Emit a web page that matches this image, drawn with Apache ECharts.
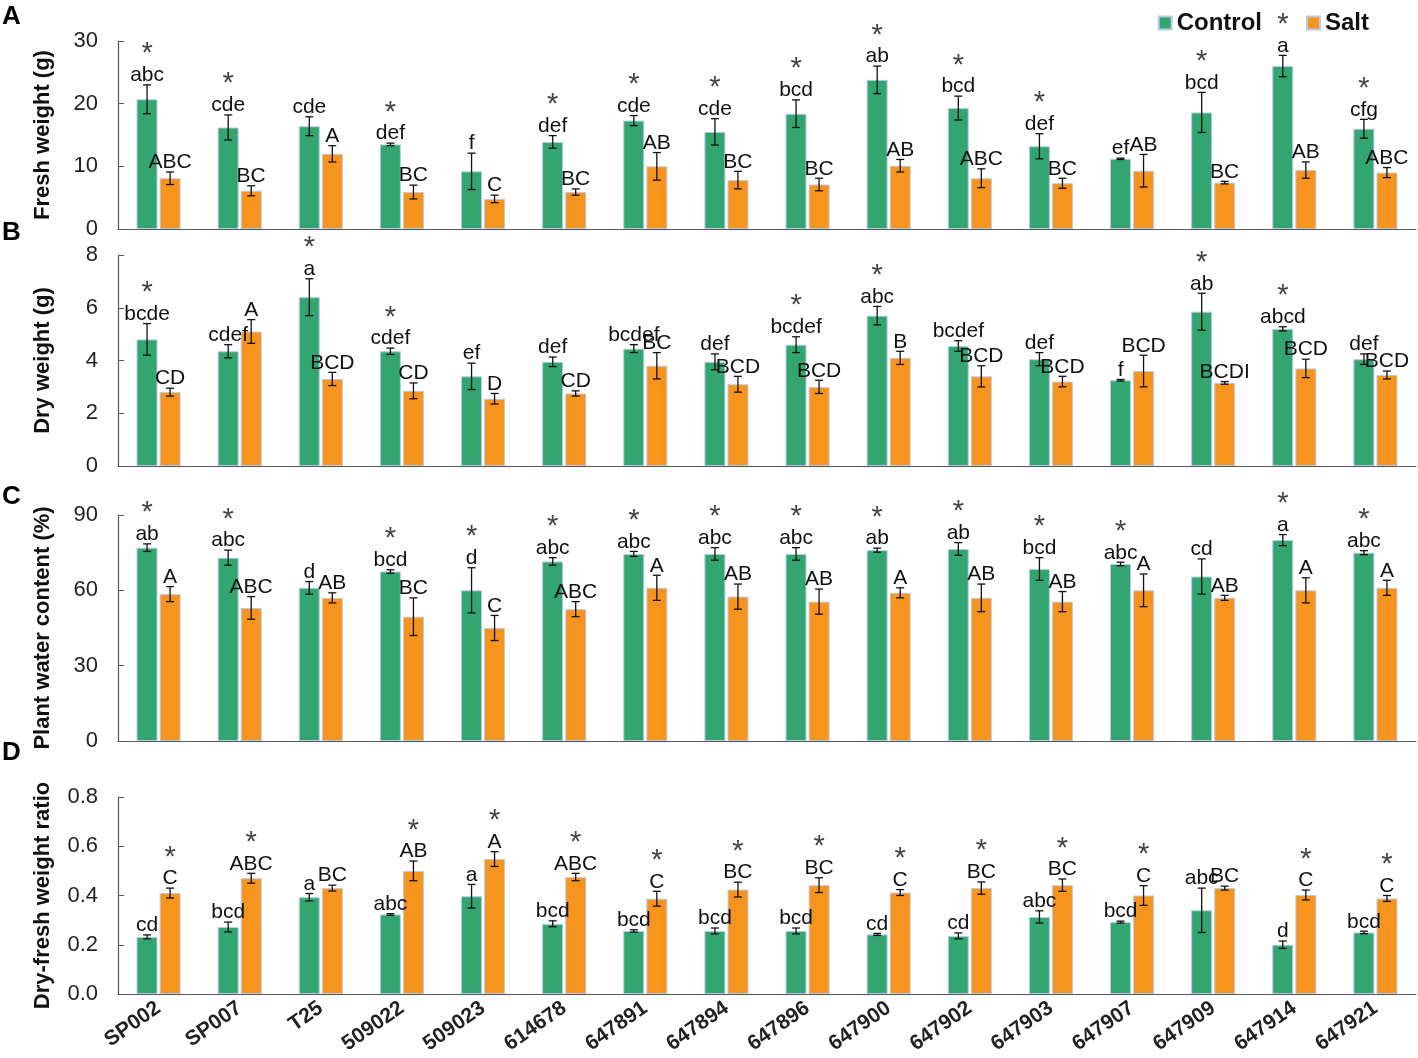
<!DOCTYPE html>
<html>
<head>
<meta charset="utf-8">
<script src="https://cdn.jsdelivr.net/npm/echarts@6/dist/echarts.min.js"></script>
<style>
  html, body { margin: 0; padding: 0; background: #fff; }
  #main { width: 1418px; height: 1058px; }
</style>
</head>
<body>
<div id="main"></div>
<script>
// 品种
var categories = ['SP002', 'SP007', 'T25', '509022', '509023', '614678', '647891', '647894',
                  '647896', '647900', '647902', '647903', '647907', '647909', '647914', '647921'];

// A 鲜重 (g)
var fwCtrl    = [20.7, 16.2, 16.4, 13.5, 9.2, 13.9, 17.3, 15.5, 18.4, 23.8, 19.3, 13.2, 11.2, 18.6, 26.0, 16.0];
var fwCtrlErr = [2.3, 2.0, 1.5, 0.2, 2.9, 1.0, 0.8, 2.1, 2.2, 2.2, 1.9, 2.0, 0.1, 3.2, 1.7, 1.5];
var fwSalt    = [8.1, 6.1, 12.0, 5.9, 4.8, 5.9, 10.0, 7.8, 7.1, 10.1, 8.1, 7.3, 9.3, 7.4, 9.4, 9.0];
var fwSaltErr = [1.0, 0.8, 1.3, 1.1, 0.6, 0.5, 2.2, 1.4, 1.0, 1.0, 1.5, 0.8, 2.6, 0.2, 1.3, 0.8];
var fwCtrlLetters = ['abc', 'cde', 'cde', 'def', 'f', 'def', 'cde', 'cde', 'bcd', 'ab', 'bcd', 'def', 'ef', 'bcd', 'a', 'cfg'];
var fwSaltLetters = ['ABC', 'BC', 'A', 'BC', 'C', 'BC', 'AB', 'BC', 'BC', 'AB', 'ABC', 'BC', 'AB', 'BC', 'AB', 'ABC'];
var fwCtrlStars = [1, 1, 0, 1, 0, 1, 1, 1, 1, 1, 1, 1, 0, 1, 1, 1];
var fwSaltStars = [0, 0, 0, 0, 0, 0, 0, 0, 0, 0, 0, 0, 0, 0, 0, 0];

// B 干重 (g)
var dwCtrl    = [4.8, 4.35, 6.4, 4.35, 3.4, 3.95, 4.45, 3.95, 4.6, 5.7, 4.55, 4.05, 3.25, 5.85, 5.2, 4.05];
var dwCtrlErr = [0.6, 0.25, 0.7, 0.12, 0.5, 0.18, 0.15, 0.3, 0.3, 0.35, 0.2, 0.25, 0.03, 0.7, 0.08, 0.2];
var dwSalt    = [2.8, 5.1, 3.3, 2.85, 2.55, 2.75, 3.8, 3.1, 3.0, 4.1, 3.4, 3.2, 3.6, 3.15, 3.7, 3.45];
var dwSaltErr = [0.15, 0.45, 0.25, 0.3, 0.2, 0.1, 0.5, 0.3, 0.25, 0.25, 0.4, 0.2, 0.6, 0.05, 0.35, 0.15];
var dwCtrlLetters = ['bcde', 'cdef', 'a', 'cdef', 'ef', 'def', 'bcdef', 'def', 'bcdef', 'abc', 'bcdef', 'def', 'f', 'ab', 'abcd', 'def'];
var dwSaltLetters = ['CD', 'A', 'BCD', 'CD', 'D', 'CD', 'BC', 'BCD', 'BCD', 'B', 'BCD', 'BCD', 'BCD', 'BCDI', 'BCD', 'BCD'];
var dwCtrlStars = [1, 0, 1, 1, 0, 0, 0, 0, 1, 1, 0, 0, 0, 1, 1, 0];
var dwSaltStars = [0, 0, 0, 0, 0, 0, 0, 0, 0, 0, 0, 0, 0, 0, 0, 0];

// C 含水量 (%)
var wcCtrl    = [77, 73, 61, 67.5, 60, 71.5, 74.5, 74.5, 74.5, 76, 76.5, 68.5, 70.5, 65.5, 80, 75];
var wcCtrlErr = [1.5, 3, 2.5, 0.7, 9, 1.5, 1, 2.5, 2.5, 0.8, 2.5, 4.5, 0.7, 7, 2.2, 0.8];
var wcSalt    = [58.5, 53, 57, 49.5, 45, 52.5, 61, 57.5, 55.5, 59, 57, 55.5, 60, 57, 60, 61];
var wcSaltErr = [3, 4.5, 2, 7.5, 5, 3, 5, 5, 5, 2, 5.5, 4, 6.5, 1, 5, 3];
var wcCtrlLetters = ['ab', 'abc', 'd', 'bcd', 'd', 'abc', 'abc', 'abc', 'abc', 'ab', 'ab', 'bcd', 'abc', 'cd', 'a', 'abc'];
var wcSaltLetters = ['A', 'ABC', 'AB', 'BC', 'C', 'ABC', 'A', 'AB', 'AB', 'A', 'AB', 'AB', 'A', 'AB', 'A', 'A'];
var wcCtrlStars = [1, 1, 0, 1, 1, 1, 1, 1, 1, 1, 1, 1, 1, 0, 1, 1];
var wcSaltStars = [0, 0, 0, 0, 0, 0, 0, 0, 0, 0, 0, 0, 0, 0, 0, 0];

// D 干鲜比
var rtCtrl    = [0.232, 0.272, 0.393, 0.323, 0.397, 0.285, 0.256, 0.256, 0.256, 0.242, 0.236, 0.313, 0.292, 0.34, 0.2, 0.25];
var rtCtrlErr = [0.008, 0.02, 0.015, 0.003, 0.048, 0.012, 0.005, 0.012, 0.012, 0.004, 0.012, 0.025, 0.004, 0.09, 0.015, 0.005];
var rtSalt    = [0.41, 0.47, 0.43, 0.5, 0.548, 0.475, 0.387, 0.424, 0.442, 0.412, 0.43, 0.442, 0.4, 0.43, 0.402, 0.388];
var rtSaltErr = [0.02, 0.02, 0.012, 0.04, 0.03, 0.015, 0.03, 0.03, 0.03, 0.012, 0.025, 0.025, 0.04, 0.008, 0.02, 0.012];
var rtCtrlLetters = ['cd', 'bcd', 'a', 'abc', 'a', 'bcd', 'bcd', 'bcd', 'bcd', 'cd', 'cd', 'abc', 'bcd', 'abc', 'd', 'bcd'];
var rtSaltLetters = ['C', 'ABC', 'BC', 'AB', 'A', 'ABC', 'C', 'BC', 'BC', 'C', 'BC', 'BC', 'C', 'BC', 'C', 'C'];
var rtCtrlStars = [0, 0, 0, 0, 0, 0, 0, 0, 0, 0, 0, 0, 0, 0, 0, 0];
var rtSaltStars = [1, 1, 0, 1, 1, 1, 1, 1, 1, 1, 1, 1, 1, 0, 1, 1];

var FONT = "'Liberation Sans', Arial, sans-serif";
var GREEN = '#33a570';
var ORANGE = '#f7941e';

var panels = [
  { name: 'Fresh weight (g)', top: 41, height: 188, max: 30, interval: 10,
    ctrl: fwCtrl, ctrlErr: fwCtrlErr, salt: fwSalt, saltErr: fwSaltErr,
    cl: fwCtrlLetters, sl: fwSaltLetters, cs: fwCtrlStars, ss: fwSaltStars },
  { name: 'Dry weight (g)', top: 255, height: 211, max: 8, interval: 2,
    ctrl: dwCtrl, ctrlErr: dwCtrlErr, salt: dwSalt, saltErr: dwSaltErr,
    cl: dwCtrlLetters, sl: dwSaltLetters, cs: dwCtrlStars, ss: dwSaltStars },
  { name: 'Plant water content (%)', top: 515, height: 226, max: 90, interval: 30,
    ctrl: wcCtrl, ctrlErr: wcCtrlErr, salt: wcSalt, saltErr: wcSaltErr,
    cl: wcCtrlLetters, sl: wcSaltLetters, cs: wcCtrlStars, ss: wcSaltStars },
  { name: 'Dry-fresh weight ratio', top: 797, height: 197, max: 0.8, interval: 0.2, fixed: 1,
    ctrl: rtCtrl, ctrlErr: rtCtrlErr, salt: rtSalt, saltErr: rtSaltErr,
    cl: rtCtrlLetters, sl: rtSaltLetters, cs: rtCtrlStars, ss: rtSaltStars }
];

// 误差线 + 字母 + 星号
function errRender(offset, letters, stars) {
  return function (params, api) {
    var i = api.value(0), v = api.value(1), e = api.value(2);
    var top = api.coord([i, v + e]);
    var bot = api.coord([i, v - e]);
    var x = top[0] + offset;
    var ls = { stroke: '#111', lineWidth: 1.3 };
    var children = [
      { type: 'line', shape: { x1: x, y1: top[1], x2: x, y2: bot[1] }, style: ls },
      { type: 'line', shape: { x1: x - 4, y1: top[1], x2: x + 4, y2: top[1] }, style: ls },
      { type: 'line', shape: { x1: x - 4, y1: bot[1], x2: x + 4, y2: bot[1] }, style: ls }
    ];
    var ly = top[1] + 1;
    children.push({ type: 'text', style: {
      text: letters[i], x: x, y: ly, align: 'center', verticalAlign: 'bottom',
      fontSize: 21, fontFamily: FONT, fill: '#111' } });
    if (stars[i]) {
      children.push({ type: 'text', style: {
        text: '*', x: x, y: ly - 17, align: 'center', verticalAlign: 'bottom',
        fontSize: 29, fontFamily: FONT, fill: '#444' } });
    }
    return { type: 'group', children: children };
  };
}

function errData(vals, errs) {
  return vals.map(function (v, i) { return [i, v, errs[i]]; });
}

var grids = [], xAxes = [], yAxes = [], series = [];
panels.forEach(function (p, k) {
  grids.push({ left: 118, right: 2, top: p.top, height: p.height });
  xAxes.push({
    type: 'category', gridIndex: k, data: categories,
    axisLine: { lineStyle: { color: '#555', width: 1.2 } },
    axisTick: { inside: true, length: 7, lineStyle: { color: '#555' } },
    axisLabel: {
      show: k === 3, rotate: 35, margin: 12, color: '#222',
      fontSize: 21, fontWeight: 'bold', fontFamily: FONT
    }
  });
  yAxes.push({
    type: 'value', gridIndex: k, min: 0, max: p.max, interval: p.interval,
    name: p.name, nameLocation: 'middle', nameGap: 64,
    nameTextStyle: { fontSize: 22, fontWeight: 'bold', fontFamily: FONT, color: '#111' },
    axisLine: { show: true, lineStyle: { color: '#555', width: 1.2 } },
    axisTick: { show: true, inside: true, length: 6, lineStyle: { color: '#555' } },
    splitLine: { show: false },
    axisLabel: {
      margin: 20, color: '#222', fontSize: 22, fontFamily: FONT,
      formatter: function (v) { return p.fixed ? v.toFixed(1) : v; }
    }
  });
  series.push({
    name: 'Control', type: 'bar', xAxisIndex: k, yAxisIndex: k,
    barWidth: 21, barGap: '10%', data: p.ctrl,
    itemStyle: { color: GREEN, borderColor: '#b9cbe6', borderWidth: 1 }
  });
  series.push({
    name: 'Salt', type: 'bar', xAxisIndex: k, yAxisIndex: k,
    barWidth: 21, barGap: '10%', data: p.salt,
    itemStyle: { color: ORANGE, borderColor: '#b9cbe6', borderWidth: 1 }
  });
  series.push({
    type: 'custom', xAxisIndex: k, yAxisIndex: k, z: 5, clip: false,
    renderItem: errRender(-11.5, p.cl, p.cs), data: errData(p.ctrl, p.ctrlErr),
    encode: { x: 0, y: 1 }, silent: true
  });
  series.push({
    type: 'custom', xAxisIndex: k, yAxisIndex: k, z: 5, clip: false,
    renderItem: errRender(11.5, p.sl, p.ss), data: errData(p.salt, p.saltErr),
    encode: { x: 0, y: 1 }, silent: true
  });
});

var chart = echarts.init(document.getElementById('main'));
chart.setOption({
  backgroundColor: '#fff',
  animation: false,
  legend: {
    data: ['Control', 'Salt'], right: 44, top: 6, icon: 'rect',
    itemWidth: 13, itemHeight: 13, itemGap: 44,
    textStyle: { fontSize: 24, fontWeight: 'bold', fontFamily: FONT, color: '#111' }
  },
  graphic: [
    { type: 'text', left: 2, top: 4, style: { text: 'A', fontSize: 26, fontWeight: 'bold', fontFamily: FONT, fill: '#000' } },
    { type: 'text', left: 2, top: 220, style: { text: 'B', fontSize: 26, fontWeight: 'bold', fontFamily: FONT, fill: '#000' } },
    { type: 'text', left: 2, top: 484, style: { text: 'C', fontSize: 26, fontWeight: 'bold', fontFamily: FONT, fill: '#000' } },
    { type: 'text', left: 2, top: 740, style: { text: 'D', fontSize: 26, fontWeight: 'bold', fontFamily: FONT, fill: '#000' } }
  ],
  grid: grids,
  xAxis: xAxes,
  yAxis: yAxes,
  series: series
});
</script>
</body>
</html>
